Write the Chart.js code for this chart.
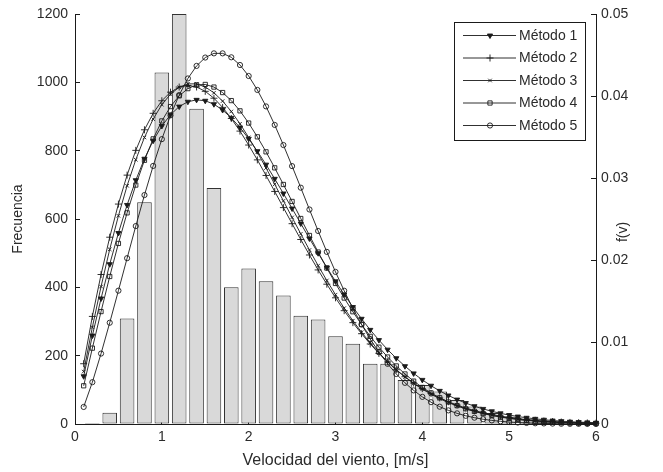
<!DOCTYPE html>
<html><head><meta charset="utf-8">
<script src="https://cdn.jsdelivr.net/npm/chart.js@4/dist/chart.umd.min.js"></script>
<style>html,body{margin:0;padding:0;background:#fff}#wrap{width:663px;height:472px;position:relative}</style>
</head><body><div id="wrap"><canvas id="c" width="663" height="472"></canvas></div>
<script>
// Histogram (left axis)
const binCenters = [0.2,0.4,0.6,0.8,1.0,1.2,1.4,1.6,1.8,2.0,2.2,2.4,2.6,2.8,3.0,3.2,3.4,3.6,3.8,4.0,4.2,4.4,4.6,4.8,5.0,5.2,5.4,5.6,5.8,6.0];
const frecuencia = [3,33,309,649,1029,1200,923,691,400,455,418,376,317,306,257,235,176,176,129,114,95,70,51,32,21,13,8,5,3,1];

// Fitted densities f(v) (right axis)
const speeds = [0.1,0.2,0.3,0.4,0.5,0.6,0.7,0.8,0.9,1.0,1.1,1.2,1.3,1.4,1.5,1.6,1.7,1.8,1.9,2.0,2.1,2.2,2.3,2.4,2.5,2.6,2.7,2.8,2.9,3.0,3.1,3.2,3.3,3.4,3.5,3.6,3.7,3.8,3.9,4.0,4.1,4.2,4.3,4.4,4.5,4.6,4.7,4.8,4.9,5.0,5.1,5.2,5.3,5.4,5.5,5.6,5.7,5.8,5.9,6.0];
const metodo1 = [0.00582,0.01078,0.01531,0.01949,0.02329,0.02671,0.02973,0.03235,0.03455,0.03634,0.03772,0.03871,0.03930,0.03953,0.03942,0.03900,0.03829,0.03733,0.03615,0.03479,0.03327,0.03163,0.02990,0.02811,0.02628,0.02445,0.02262,0.02083,0.01909,0.01740,0.01579,0.01426,0.01283,0.01148,0.01023,0.00907,0.00802,0.00705,0.00617,0.00538,0.00467,0.00404,0.00348,0.00298,0.00255,0.00217,0.00184,0.00155,0.00130,0.00109,0.00091,0.00076,0.00063,0.00052,0.00042,0.00035,0.00028,0.00023,0.00019,0.00015];
const metodo2 = [0.00735,0.01312,0.01823,0.02278,0.02682,0.03035,0.03337,0.03588,0.03789,0.03942,0.04047,0.04109,0.04129,0.04110,0.04057,0.03973,0.03861,0.03726,0.03572,0.03402,0.03221,0.03031,0.02836,0.02639,0.02443,0.02250,0.02061,0.01879,0.01705,0.01539,0.01382,0.01236,0.01101,0.00976,0.00861,0.00757,0.00662,0.00576,0.00500,0.00432,0.00371,0.00318,0.00271,0.00231,0.00195,0.00164,0.00138,0.00115,0.00096,0.00080,0.00066,0.00054,0.00045,0.00036,0.00030,0.00024,0.00019,0.00016,0.00013,0.00010];
const metodo3 = [0.00639,0.01181,0.01676,0.02130,0.02539,0.02905,0.03223,0.03495,0.03718,0.03894,0.04023,0.04107,0.04148,0.04148,0.04110,0.04039,0.03938,0.03811,0.03661,0.03495,0.03314,0.03122,0.02924,0.02721,0.02519,0.02319,0.02122,0.01932,0.01750,0.01577,0.01413,0.01260,0.01119,0.00988,0.00868,0.00760,0.00661,0.00573,0.00494,0.00425,0.00363,0.00308,0.00261,0.00220,0.00185,0.00154,0.00129,0.00107,0.00088,0.00072,0.00059,0.00048,0.00039,0.00032,0.00025,0.00020,0.00016,0.00013,0.00010,0.00008];
const metodo4 = [0.00466,0.00925,0.01371,0.01799,0.02202,0.02575,0.02914,0.03216,0.03477,0.03696,0.03871,0.04002,0.04090,0.04136,0.04141,0.04109,0.04042,0.03944,0.03819,0.03670,0.03502,0.03319,0.03124,0.02921,0.02714,0.02506,0.02299,0.02097,0.01902,0.01714,0.01536,0.01369,0.01213,0.01069,0.00937,0.00817,0.00708,0.00610,0.00523,0.00446,0.00379,0.00320,0.00268,0.00224,0.00186,0.00154,0.00127,0.00104,0.00084,0.00068,0.00055,0.00044,0.00035,0.00028,0.00022,0.00017,0.00014,0.00011,0.00008,0.00006];
const metodo5 = [0.00208,0.00510,0.00859,0.01235,0.01626,0.02022,0.02414,0.02792,0.03147,0.03474,0.03764,0.04012,0.04214,0.04367,0.04469,0.04520,0.04520,0.04472,0.04378,0.04244,0.04074,0.03873,0.03647,0.03402,0.03145,0.02882,0.02616,0.02354,0.02099,0.01855,0.01625,0.01410,0.01214,0.01036,0.00876,0.00734,0.00610,0.00502,0.00410,0.00331,0.00266,0.00211,0.00166,0.00130,0.00100,0.00077,0.00058,0.00044,0.00033,0.00024,0.00018,0.00013,0.00009,0.00007,0.00005,0.00003,0.00002,0.00002,0.00001,0.00001];

const seriesNames = ['Método 1','Método 2','Método 3','Método 4','Método 5'];
const xTitle = 'Velocidad del viento, [m/s]';
const leftTitle = 'Frecuencia';
const rightTitle = 'f(v)';
const xTicks = [0,1,2,3,4,5,6];
const leftTicks = [0,200,400,600,800,1000,1200];
const rightTicks = [0,0.01,0.02,0.03,0.04,0.05];

const INK = '#1a1a1a';
const TXT = '#2b2b2b';
const FONT = {family: "'Liberation Sans', Arial, sans-serif", size: 14};
const XFONT = {family: "'Liberation Sans', Arial, sans-serif", size: 16};

const markerStyles = [
  {pointStyle:'triangle', rotation:180, radius:3, fill:INK},
  {pointStyle:'cross', rotation:0, radius:3.5, fill:'rgba(0,0,0,0)'},
  {pointStyle:'crossRot', rotation:0, radius:2.5, fill:'rgba(0,0,0,0)'},
  {pointStyle:'rect', rotation:0, radius:3, fill:'rgba(0,0,0,0)'},
  {pointStyle:'circle', rotation:0, radius:2.6, fill:'rgba(0,0,0,0)'}
];
const seriesValues = [metodo1, metodo2, metodo3, metodo4, metodo5];

const lineSets = seriesValues.map((vals, i) => ({
  type: 'line',
  label: seriesNames[i],
  data: speeds.map((s, j) => ({x: s, y: vals[j]})),
  yAxisID: 'y1',
  borderColor: INK,
  borderWidth: 0.9,
  pointStyle: markerStyles[i].pointStyle,
  pointRotation: markerStyles[i].rotation,
  pointRadius: markerStyles[i].radius,
  pointBorderWidth: 0.9,
  pointBorderColor: INK,
  pointBackgroundColor: markerStyles[i].fill,
  fill: false,
  tension: 0,
  clip: false,
  order: 1
}));

const barSet = {
  type: 'bar',
  label: 'Frecuencia',
  data: binCenters.map((c, i) => ({x: c, y: frecuencia[i]})),
  yAxisID: 'y',
  backgroundColor: '#d9d9d9',
  borderColor: '#333333',
  borderWidth: 1,
  borderSkipped: false,
  categoryPercentage: 1,
  barPercentage: 0.84,
  order: 10
};

function drawMarker(ctx, st, x, y) {
  const opts = {pointStyle: st.pointStyle, rotation: st.rotation, radius: st.radius, borderWidth: 0.9};
  ctx.save();
  ctx.strokeStyle = INK; ctx.fillStyle = st.fill; ctx.lineWidth = 0.9;
  if (Chart.helpers && Chart.helpers.drawPoint) {
    Chart.helpers.drawPoint(ctx, opts, x, y);
  }
  ctx.restore();
}

const extrasPlugin = {
  id: 'extras',
  afterDraw(chart) {
    const ctx = chart.ctx;
    // right axis title, reading bottom-to-top
    ctx.save();
    ctx.fillStyle = TXT;
    ctx.font = `${FONT.size}px ${FONT.family}`;
    ctx.textAlign = 'center'; ctx.textBaseline = 'middle';
    ctx.translate(623, 232);
    ctx.rotate(-Math.PI / 2);
    ctx.fillText(rightTitle, 0, 0);
    ctx.restore();
    // legend box
    const bx = 454, by = 22, bw = 131, bh = 118, rowH = 22.5, row0 = 35;
    ctx.save();
    ctx.fillStyle = '#ffffff';
    ctx.fillRect(bx, by, bw, bh);
    ctx.strokeStyle = INK; ctx.lineWidth = 1;
    ctx.strokeRect(bx + 0.5, by + 0.5, bw, bh);
    ctx.font = `${FONT.size}px ${FONT.family}`;
    ctx.textBaseline = 'middle'; ctx.textAlign = 'left';
    seriesNames.forEach((name, i) => {
      const y = row0 + i * rowH;
      ctx.strokeStyle = INK; ctx.lineWidth = 0.9;
      ctx.beginPath(); ctx.moveTo(463, y + 0.5); ctx.lineTo(516, y + 0.5); ctx.stroke();
      drawMarker(ctx, markerStyles[i], 490, y + 0.5);
      ctx.fillStyle = TXT;
      ctx.fillText(name, 519, y + 1);
    });
    ctx.restore();
  }
};

new Chart(document.getElementById('c'), {
  type: 'bar',
  data: {datasets: [barSet, ...lineSets]},
  plugins: [extrasPlugin],
  options: {
    responsive: false,
    animation: false,
    events: [],
    layout: {padding: {top: 14, left: 0, right: 0, bottom: 0}},
    plugins: {legend: {display: false}, tooltip: {enabled: false}, title: {display: false}},
    scales: {
      x: {
        type: 'linear', min: 0, max: 6, offset: false,
        afterFit: s => { s.height = 48; s.paddingLeft = 0; s.paddingRight = 0; },
        afterBuildTicks: s => { s.ticks = xTicks.map(v => ({value: v})); },
        grid: {display: true, drawOnChartArea: false, drawTicks: true, tickLength: -5, color: INK, offset: false},
        border: {display: true, color: INK, width: 1},
        ticks: {color: TXT, font: FONT, padding: 10, maxRotation: 0, autoSkip: false, callback: v => String(v)},
        title: {display: true, text: xTitle, color: TXT, font: XFONT, padding: {top: 0, bottom: 2}}
      },
      y: {
        type: 'linear', position: 'left', min: 0, max: 1200,
        afterFit: s => { s.width = 75; s.paddingTop = 0; s.paddingBottom = 0; },
        afterBuildTicks: s => { s.ticks = leftTicks.map(v => ({value: v})); },
        grid: {display: true, drawOnChartArea: false, drawTicks: true, tickLength: -5, color: INK},
        border: {display: true, color: INK, width: 1},
        ticks: {color: TXT, font: FONT, padding: 12, callback: v => String(v)},
        title: {display: true, text: leftTitle, color: TXT, font: FONT, padding: {top: 10, bottom: 0}}
      },
      y1: {
        type: 'linear', position: 'right', min: 0, max: 0.05,
        afterFit: s => { s.width = 67; s.paddingTop = 0; s.paddingBottom = 0; },
        afterBuildTicks: s => { s.ticks = rightTicks.map(v => ({value: v})); },
        grid: {display: true, drawOnChartArea: false, drawTicks: true, tickLength: -5, color: INK},
        border: {display: true, color: INK, width: 1},
        ticks: {color: TXT, font: FONT, padding: 10, callback: v => String(+v.toFixed(2))}
      }
    }
  }
});
</script></body></html>
